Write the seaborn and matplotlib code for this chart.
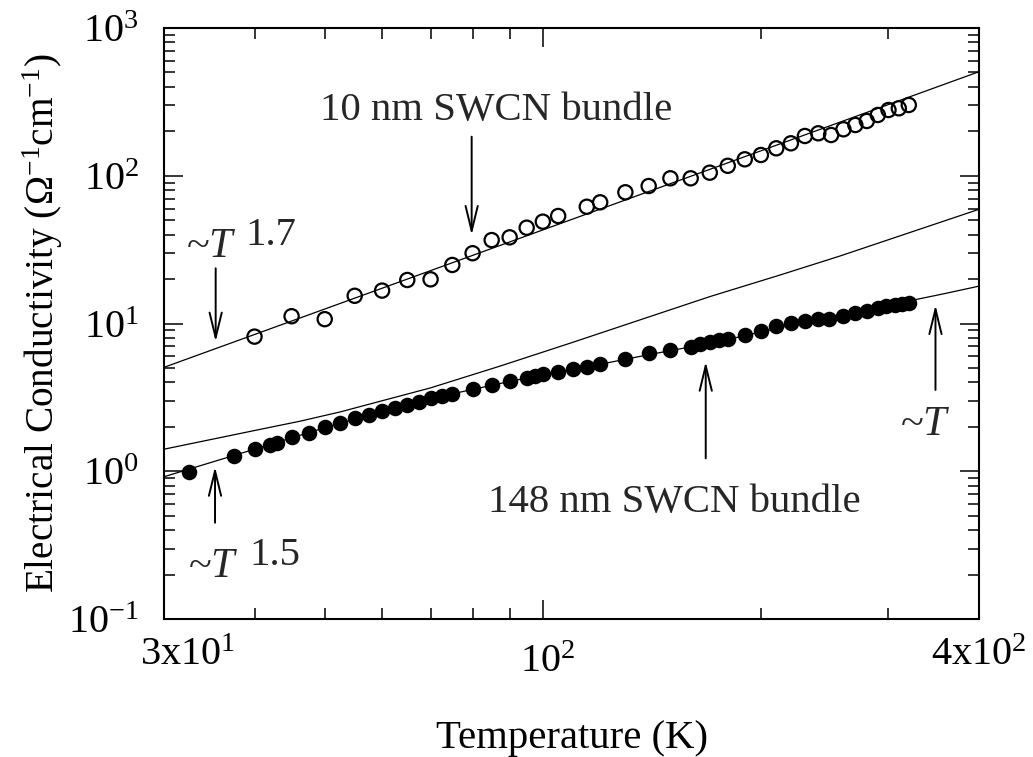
import matplotlib
matplotlib.use("Agg")
import matplotlib.pyplot as plt
import matplotlib.transforms as mtransforms
import seaborn as sns
from matplotlib.ticker import FixedLocator, FixedFormatter, NullFormatter

# ---------------- data ----------------
T_10nm = [40, 45, 50, 55, 60, 65, 70, 75, 80, 85, 90, 95, 100, 105, 115, 120,
          130, 140, 150, 160, 170, 180, 190, 200, 210, 220, 230, 240, 250, 260,
          270, 280, 290, 300, 310, 320]
sigma_10nm = [8.15, 11.2, 10.7, 15.4, 16.7, 19.7, 19.9, 24.9, 29.9, 36.7, 38.3,
              44.5, 48.9, 53.4, 61.7, 66.1, 77.3, 85.2, 96.1, 96.1, 104.9, 116.8,
              129.2, 138.2, 153.4, 165.8, 185.8, 193.8, 188.7, 206.3, 220.5,
              234.8, 257.8, 278.6, 286.1, 301.2]

T_148nm = [32.5, 37.5, 40, 42, 43, 45, 47.5, 50, 52.5, 55, 57.5, 60, 62.5, 65,
           67.5, 70, 72.5, 75, 80, 85, 90, 95, 97.5, 100, 105, 110, 115, 120,
           130, 140, 150, 160, 165, 170, 175, 180, 190, 200, 210, 220, 230, 240,
           248, 260, 270, 280, 290, 298, 306, 313, 320]
sigma_148nm = [0.99, 1.27, 1.41, 1.51, 1.55, 1.70, 1.82, 1.98, 2.13, 2.28, 2.40,
               2.56, 2.69, 2.81, 2.96, 3.12, 3.23, 3.33, 3.59, 3.84, 4.08, 4.30,
               4.43, 4.55, 4.72, 4.90, 5.05, 5.32, 5.75, 6.29, 6.62, 6.96, 7.23,
               7.46, 7.73, 7.85, 8.36, 8.94, 9.62, 10.03, 10.4, 10.7, 10.8, 11.3,
               11.8, 12.2, 12.7, 13.1, 13.3, 13.5, 13.7]

# fitted curves
fit_top_T = [30, 400]
fit_top_sigma = [5.05, 506]

fit_mid_T = [30, 40.7, 46.2, 52.5, 60, 69.9, 87.3, 109, 136.2, 170, 212.6,
             257, 400]
fit_mid_sigma = [1.41, 1.92, 2.18, 2.52, 3.0, 3.66, 5.15, 7.35, 10.58, 15.2,
                 21.3, 28.6, 59.3]

fit_low_T = [30, 40, 50, 60, 70, 80, 90, 100, 120, 140, 160, 180, 200, 220,
             250, 280, 320, 360, 400]
fit_low_sigma = [0.918, 1.41, 1.97, 2.55, 3.10, 3.58, 4.05, 4.50, 5.30, 6.15,
                 6.95, 7.80, 8.75, 9.75, 11.0, 12.3, 14.2, 16.0, 17.9]

x_major = [30, 100, 400]
x_major_labels = [r"$3\mathrm{x}10^{1}$", r"$10^{2}$", r"$4\mathrm{x}10^{2}$"]
x_minor = [40, 50, 60, 70, 80, 90, 200, 300]
y_major = [0.1, 1, 10, 100, 1000]
y_major_labels = [r"$10^{-1}$", r"$10^{0}$", r"$10^{1}$", r"$10^{2}$", r"$10^{3}$"]
y_minor = [m * d for d in (0.1, 1, 10, 100) for m in range(2, 10)]

# ---------------- style ----------------
sns.set_theme(style="ticks")
plt.rcParams["font.family"] = ["Liberation Serif", "DejaVu Serif"]
plt.rcParams["mathtext.fontset"] = "custom"
plt.rcParams["mathtext.rm"] = "Liberation Serif"
plt.rcParams["mathtext.it"] = "Liberation Serif:italic"
plt.rcParams["mathtext.bf"] = "Liberation Serif:bold"

FS = 29.3
TFS = 29.0

fig = plt.figure(figsize=(10.33, 7.57), dpi=100)
ax = fig.add_axes([164 / 1033, 1 - 619 / 757, 815 / 1033, 591 / 757])

# lines
for xs, ys in ((fit_top_T, fit_top_sigma), (fit_mid_T, fit_mid_sigma),
               (fit_low_T, fit_low_sigma)):
    sns.lineplot(x=xs, y=ys, ax=ax, color="black", linewidth=0.9,
                 sort=False, estimator=None, zorder=2)

# markers
sns.scatterplot(x=T_10nm, y=sigma_10nm, ax=ax, marker="o", s=105,
                facecolor="none", edgecolor="black", linewidth=1.6, zorder=3)
sns.scatterplot(x=T_148nm, y=sigma_148nm, ax=ax, marker="o", s=125,
                color="black", edgecolor="black", linewidth=0, zorder=3)

ax.set_xscale("log")
ax.set_yscale("log")
ax.set_xlim(30, 400)
ax.set_ylim(0.1, 1000)

ax.xaxis.set_major_locator(FixedLocator(x_major))
ax.xaxis.set_major_formatter(FixedFormatter(x_major_labels))
ax.xaxis.set_minor_locator(FixedLocator(x_minor))
ax.xaxis.set_minor_formatter(NullFormatter())
ax.yaxis.set_major_locator(FixedLocator(y_major))
ax.yaxis.set_major_formatter(FixedFormatter(y_major_labels))
ax.yaxis.set_minor_locator(FixedLocator(y_minor))
ax.yaxis.set_minor_formatter(NullFormatter())

ax.tick_params(which="both", direction="in", top=True, right=True,
               color="black", width=1.1, labelsize=TFS, labelcolor="black")
ax.tick_params(which="major", length=14, pad=18)
ax.tick_params(which="minor", length=8)
ax.tick_params(axis="x", which="major", pad=13)
for sp in ax.spines.values():
    sp.set_linewidth(1.5)
    sp.set_color("black")
    sp.set_visible(True)

ax.set_xlabel("Temperature (K)", fontsize=FS, labelpad=28, color="black")
ax.set_ylabel(r"Electrical Conductivity (Ω$^{-1}$cm$^{-1}$)", fontsize=28.3,
              labelpad=2, color="black")

# shift individual x tick labels as in the reference
xlabels = ax.get_xticklabels()
shifts = [(24, 0), (5, -7), (0, 0)]
for lab, (dx, dy) in zip(xlabels, shifts):
    off = mtransforms.ScaledTranslation(dx / 100, dy / 100, fig.dpi_scale_trans)
    lab.set_transform(lab.get_transform() + off)

# ---------------- annotations ----------------
tr = ax.transAxes
arrow_kw = dict(arrowstyle="->,head_length=0.9,head_width=0.22",
                color="black", lw=1.4, mutation_scale=20, shrinkA=0, shrinkB=0)


def arrow(x, y0, y1):
    ax.annotate("", xy=(x, y1), xytext=(x, y0), xycoords=tr, textcoords=tr,
                arrowprops=arrow_kw)


ax.text(0.4074, 0.8443, "10 nm SWCN bundle", transform=tr, fontsize=FS,
        ha="center", va="baseline")
arrow(0.3775, 0.8161, 0.6497)

ax.text(0.6258, 0.1816, "148 nm SWCN bundle", transform=tr, fontsize=FS,
        ha="center", va="baseline")
arrow(0.6647, 0.2719, 0.4354)

# ~T^1.7
ax.text(0.027, 0.6125, r"~$T$", transform=tr, fontsize=FS + 1,
        ha="left", va="baseline")
ax.text(0.1, 0.6328, "1.7", transform=tr, fontsize=FS, ha="left", va="baseline")
arrow(0.0634, 0.5934, 0.4692)

# ~T^1.5
ax.text(0.0294, 0.0711, r"~$T$", transform=tr, fontsize=FS + 1,
        ha="left", va="baseline")
ax.text(0.1043, 0.0914, "1.5", transform=tr, fontsize=FS, ha="left", va="baseline")
arrow(0.0626, 0.1629, 0.2577)

# ~T
ax.text(0.903, 0.3113, r"~$T$", transform=tr, fontsize=FS + 1,
        ha="left", va="baseline")
arrow(0.9466, 0.3875, 0.5313)

fig.savefig("out.png", dpi=100, facecolor="white")
